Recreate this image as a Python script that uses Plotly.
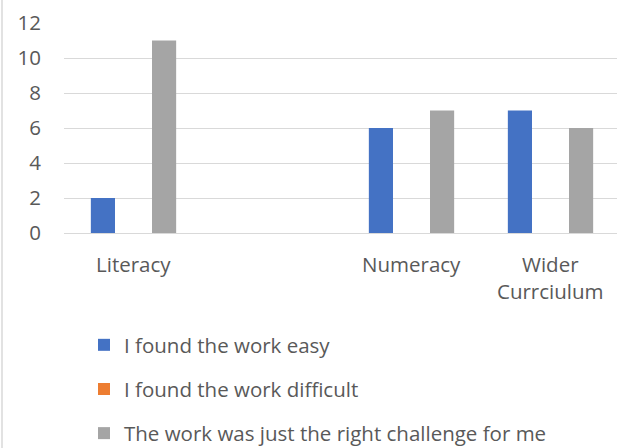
import plotly.graph_objects as go

categories = ["Literacy", " ", "Numeracy", "Wider Currciulum"]
category_lines = [["Literacy"], [], ["Numeracy"], ["Wider", "Currciulum"]]
easy = [2, None, 6, 7]
difficult = [None, None, None, None]
right_challenge = [11, None, 7, 6]
series_names = ["I found the work easy", "I found the work difficult",
                "The work was just the right challenge for me"]
colors = ["#4472C4", "#ED7D31", "#A5A5A5"]
y_ticks = [0, 2, 4, 6, 8, 10, 12]

W, H = 617, 448
L, R, T, B = 64, 0, 23, 215
plot_w = W - L - R
plot_h = H - T - B
cat_px = 139.0
FS = 20.5
TXT = "#595959"

def py(pix):
    return (H - B - pix) / plot_h

def px(pix):
    return (pix - L) / plot_w

fig = go.Figure()
for i, (name, vals) in enumerate(zip(series_names, [easy, difficult, right_challenge])):
    fig.add_trace(go.Bar(x=categories, y=vals, name=name, marker_color=colors[i],
                         marker_line_width=0, legendgroup=f"g{i}"))

annotations = []
for cat, lines in zip(categories, category_lines):
    for k, line in enumerate(lines):
        annotations.append(dict(x=cat, xref="x", y=py(264 + 27 * k), yref="paper",
                                text=line, showarrow=False, xanchor="center",
                                yanchor="middle", font=dict(size=FS, color=TXT)))

fig.update_layout(
    width=W, height=H,
    margin=dict(l=L, r=R, t=T, b=B, autoexpand=False),
    paper_bgcolor="white", plot_bgcolor="white",
    barmode="group", bargap=0.34, bargroupgap=0.21,
    font=dict(family="Open Sans", size=FS, color=TXT),
    xaxis=dict(type="category", range=[-0.5, -0.5 + plot_w / cat_px], automargin=False,
               showgrid=False, zeroline=False, showline=False, ticks="",
               showticklabels=False),
    yaxis=dict(range=[0, 12], tickvals=y_ticks, showgrid=True, gridcolor="#D9D9D9",
               gridwidth=1.3, zeroline=True, zerolinecolor="#D9D9D9", zerolinewidth=1.3,
               showline=False, ticks="", ticklabelstandoff=22, automargin=False,
               tickfont=dict(size=FS, color=TXT)),
    legend=dict(x=px(84), xanchor="left", y=py(325), yanchor="top",
                orientation="v", traceorder="grouped", tracegroupgap=14.5,
                font=dict(size=FS, color=TXT), bgcolor="rgba(0,0,0,0)"),
    showlegend=True,
    annotations=annotations,
    shapes=[dict(type="line", xref="paper", yref="paper",
                 x0=px(2), x1=px(2), y0=py(0), y1=py(448),
                 line=dict(color="#D9D9D9", width=1.5))],
)

fig.write_html("out.html", config={"displayModeBar": False},
               post_script="document.body.style.margin='0';document.body.style.overflow='hidden';")
